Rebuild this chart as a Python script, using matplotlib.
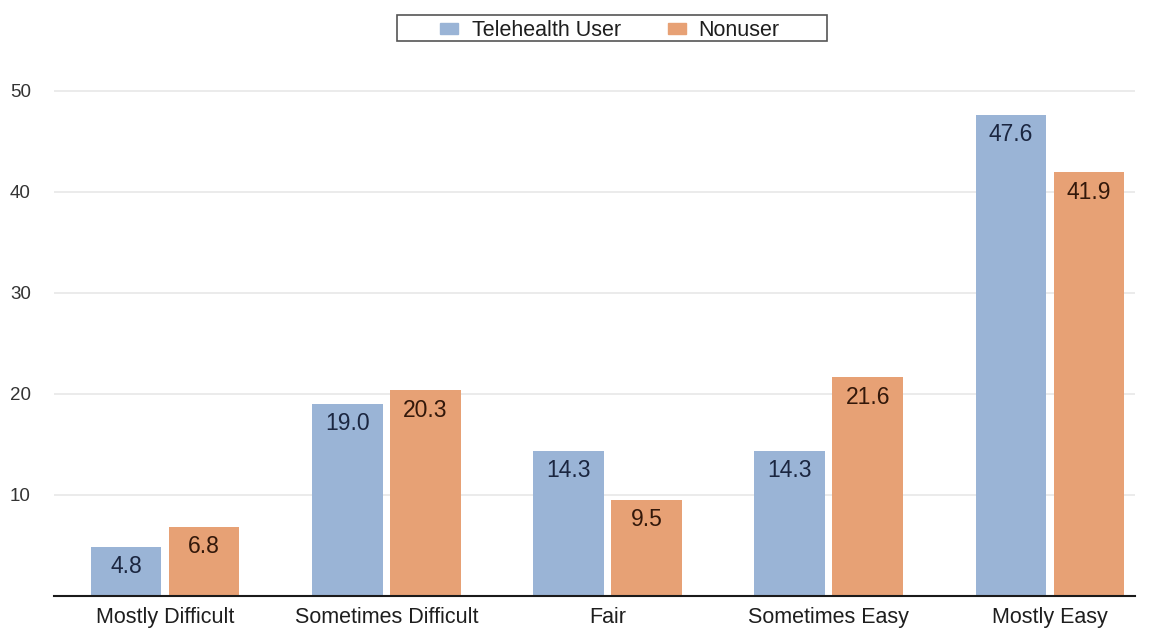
import matplotlib
matplotlib.use("Agg")
import matplotlib.pyplot as plt
from matplotlib.patches import Rectangle
import numpy as np

plt.rcParams['font.family'] = ['Liberation Sans', 'DejaVu Sans']

categories = ["Mostly Difficult", "Sometimes Difficult", "Fair", "Sometimes Easy", "Mostly Easy"]
telehealth_user = [4.8, 19.0, 14.3, 14.3, 47.6]
nonuser = [6.8, 20.3, 9.5, 21.6, 41.9]
series_names = ["Telehealth User", "Nonuser"]
yticks = [10, 20, 30, 40, 50]

blue = "#9ab4d6"
orange = "#e7a175"

W, H = 1151, 628
fig = plt.figure(figsize=(W / 100, H / 100), dpi=100)
ax = fig.add_axes([54.4 / W, 32.5 / H, 1080.6 / W, 555.5 / H])

x = np.arange(len(categories))
w = 0.32
off = 0.176
b1 = ax.bar(x - off, telehealth_user, w, color=blue, zorder=2)
b2 = ax.bar(x + off, nonuser, w, color=orange, zorder=2)

for bars, vals, tc in ((b1, telehealth_user, "#1b2640"), (b2, nonuser, "#33180a")):
    for r, v in zip(bars, vals):
        ax.annotate(f"{v:.1f}", (r.get_x() + r.get_width() / 2, v),
                    xytext=(0, -19), textcoords="offset points",
                    ha="center", va="baseline", fontsize=16.5, color=tc)

ax.set_xlim(-0.5, 4.384)
ax.set_ylim(0, 55)
ax.set_yticks(yticks)
ax.set_yticklabels([str(t) for t in yticks], fontsize=13.5, color="#333333")
ax.set_xticks(x)
ax.set_xticklabels(categories, fontsize=15.5, color="#1e1e1e")
ax.tick_params(axis="both", length=0)
ax.tick_params(axis="y", pad=32)
ax.tick_params(axis="x", pad=8.5)
for t in ax.get_yticklabels():
    t.set_horizontalalignment("left")
ax.yaxis.grid(True, color="#e8e8e8", linewidth=1.2, zorder=0)
for s in ("top", "right", "left"):
    ax.spines[s].set_visible(False)
ax.spines["bottom"].set_color("#1a1a1a")
ax.spines["bottom"].set_linewidth(1.5)

# legend box drawn in figure pixels (top-left origin converted)
def fx(px):
    return px / W

def fy(py):
    return 1 - py / H

fig.patches.append(Rectangle((fx(397), fy(41)), 430 / W, 26 / H,
                             transform=fig.transFigure, fill=False,
                             edgecolor="#555555", linewidth=1.2))
for hx, tx, col, name in ((440, 472, blue, series_names[0]),
                          (668, 698, orange, series_names[1])):
    fig.patches.append(Rectangle((fx(hx), fy(34)), 18 / W, 11 / H,
                                 transform=fig.transFigure, color=col))
    fig.text(fx(tx), fy(28.5), name, ha="left", va="center_baseline",
             fontsize=15.5, color="#1e1e1e")

fig.savefig("out.png", dpi=100)
